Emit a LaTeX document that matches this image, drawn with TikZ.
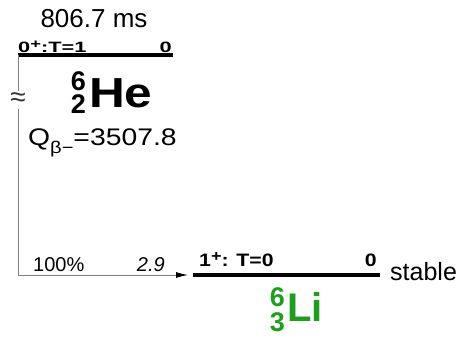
\documentclass[tikz,border=0pt]{standalone}
\usepackage{fontspec}
\setmainfont{Liberation Sans}
\newfontfamily\sansx[FakeStretch=1.18]{Liberation Sans}
\newfontfamily\sansxx[FakeStretch=1.45]{Liberation Sans}
\usetikzlibrary{arrows.meta}
\definecolor{nucgreen}{RGB}{28,160,28}
\newcommand{\parplus}{\raisebox{0.32em}{\scalebox{0.85}{+}}}

\begin{document}
\begin{tikzpicture}[
x=1pt, y=-1pt,
level/.style={line width=3.5pt},
spin/.style={inner sep=0pt, font=\fontsize{15}{15}\sansxx\bfseries},
spinlow/.style={inner sep=0pt, font=\fontsize{18}{18}\sansx\bfseries},
info/.style={inner sep=0pt, font=\fontsize{26}{26}\selectfont},
nuc/.style={inner sep=0pt, font=\fontsize{42}{42}\sansx\bfseries},
nucnum/.style={inner sep=0pt, text height=0.72em, text depth=0pt, font=\fontsize{27}{27}\selectfont\bfseries},
decay/.style={draw=gray, line width=0.9pt},
arrow/.style={-{Latex[length=12pt, width=6pt, color=black]}}
]
\useasboundingbox (0,0) rectangle (459,337);

% parent 6He
\coordinate (hel) at (18,55);
\coordinate (her) at (173,55);
\draw[level] (hel) -- (her);
\node[info, anchor=base] (halflife) at (94,28) {806.7 ms};
\node[spin, anchor=base west] (hespin) at (18,53) {0\parplus:T=1};
\node[spin, anchor=base east] (heen) at (172,53) {0};
\node[nuc, anchor=base west] (he) at (89,108) {He};
\node[nucnum, anchor=base east] (hea) at (86,91) {6};
\node[nucnum, anchor=base east] (hez) at (86,114) {2};
\node[info, font=\fontsize{24}{24}\sansx, anchor=base west] (qval) at (28,146)
  {Q\raisebox{-0.3em}{\fontsize{17}{17}\selectfont β−}=3507.8};

% daughter 6Li
\coordinate (lil) at (193,275);
\coordinate (lir) at (380,275);
\draw[level] (lil) -- (lir);
\node[spinlow, anchor=base west] (lispin) at (199,267) {1\parplus: T=0};
\node[spinlow, anchor=base east] (lien) at (377,267) {0};
\node[info, font=\fontsize{25}{25}\selectfont, anchor=base west] (stable) at (390,281) {stable};
\node[nuc, text=nucgreen, font=\fontsize{40}{40}\selectfont\bfseries, anchor=base west] (li) at (287,322) {Li};
\node[nucnum, text=nucgreen, anchor=base east] (lia) at (285,307) {6};
\node[nucnum, text=nucgreen, anchor=base east] (liz) at (285,332) {3};

% beta branch
\coordinate (gaptop) at (18,91);
\coordinate (gapbot) at (18,109);
\coordinate (arrowend) at (188,275);
\node[inner sep=0pt, font=\fontsize{28}{28}\selectfont, text=black!80] (approx) at (18,100) {≈};
\draw[decay] (hel) -- (gaptop);
\draw[decay, arrow] (gapbot) |- (arrowend);
\node[info, font=\fontsize{20}{20}\selectfont, anchor=base west] (branch) at (33,272) {100\%};
\node[info, font=\fontsize{20}{20}\selectfont\itshape, anchor=base east] (logft) at (165,272) {2.9};
\end{tikzpicture}
\end{document}
